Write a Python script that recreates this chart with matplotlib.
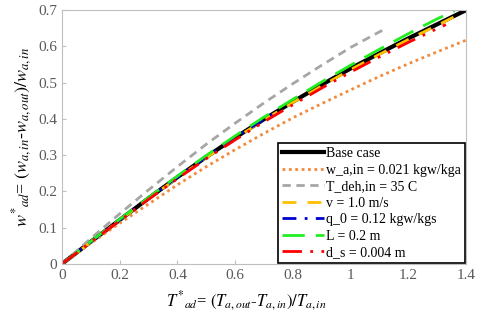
import numpy as np
import matplotlib
matplotlib.use("Agg")
import matplotlib.pyplot as plt

plt.rcParams['font.family'] = ['Liberation Serif', 'DejaVu Serif']
plt.rcParams['mathtext.fontset'] = 'stix'

# base case
x_base = [0, 0.1, 0.2, 0.3, 0.4, 0.5, 0.6, 0.7, 0.8, 0.9, 1.0, 1.1, 1.2, 1.3, 1.4]
y_base = [0, 0.061, 0.121, 0.181, 0.239, 0.295, 0.348, 0.399, 0.447, 0.494, 0.539, 0.581, 0.622, 0.661, 0.70]

# w_a,in = 0.021
x_win = [0, 0.1, 0.2, 0.3, 0.4, 0.5, 0.6, 0.7, 0.8, 0.9, 1.0, 1.1, 1.2, 1.3, 1.4]
y_win = [0, 0.057, 0.112, 0.165, 0.218, 0.268, 0.315, 0.360, 0.403, 0.442, 0.480, 0.517, 0.552, 0.585, 0.617]

# T_deh,in = 35 C
x_tdeh = [0, 0.1, 0.2, 0.3, 0.4, 0.5, 0.6, 0.7, 0.8, 0.9, 1.0, 1.1, 1.12]
y_tdeh = [0, 0.070, 0.138, 0.204, 0.268, 0.330, 0.388, 0.444, 0.497, 0.548, 0.597, 0.640, 0.648]

# v = 1.0 m/s
x_v = [0, 0.1, 0.2, 0.3, 0.4, 0.5, 0.6, 0.7, 0.8, 0.9, 1.0, 1.1, 1.2, 1.3, 1.38]
y_v = [0, 0.060, 0.120, 0.180, 0.237, 0.293, 0.346, 0.397, 0.445, 0.491, 0.536, 0.578, 0.619, 0.658, 0.690]

# q_0 = 0.12
x_q = [0, 0.1, 0.2, 0.3, 0.4, 0.5, 0.6, 0.7, 0.75]
y_q = [0, 0.061, 0.121, 0.181, 0.239, 0.295, 0.348, 0.399, 0.422]

# L = 0.2 m
x_L = [0, 0.1, 0.2, 0.3, 0.4, 0.5, 0.6, 0.7, 0.8, 0.9, 1.0, 1.1, 1.2, 1.3, 1.36]
y_L = [0, 0.062, 0.123, 0.183, 0.242, 0.299, 0.353, 0.405, 0.454, 0.502, 0.548, 0.592, 0.635, 0.676, 0.698]

# d_s = 0.004 m
x_ds = [0, 0.1, 0.2, 0.3, 0.4, 0.5, 0.6, 0.7, 0.8, 0.9, 1.0, 1.1, 1.2, 1.3, 1.33]
y_ds = [0, 0.060, 0.119, 0.178, 0.235, 0.290, 0.342, 0.392, 0.439, 0.485, 0.529, 0.571, 0.611, 0.649, 0.660]

fig = plt.figure(figsize=(4.8, 3.16), dpi=100)
ax = fig.add_axes([0.129, 0.165, 0.842, 0.803])

ax.plot(x_base, y_base, color='black', lw=3, label='Base case')
ax.plot(x_win, y_win, color='#F28A3C', lw=2, ls=(0, (1, 1.3)), label='w_a,in = 0.021 kgw/kga')
ax.plot(x_tdeh, y_tdeh, color='#A6A6A6', lw=2, ls=(0, (3, 2)), label='T_deh,in = 35 C')
ax.plot(x_v, y_v, color='#FFC000', lw=2, ls=(0, (5, 4)), label='v = 1.0 m/s')
ax.plot(x_q, y_q, color='#0000CC', lw=2, ls=(0, (5, 3, 1, 3)), label='q_0 = 0.12 kgw/kgs')
ax.plot(x_L, y_L, color='#22EE22', lw=2, ls=(0, (8, 4)), label='L = 0.2 m')
ax.plot(x_ds, y_ds, color='#FF0000', lw=2, ls=(0, (7, 3, 1, 3, 1, 3)), label='d_s = 0.004 m')

ax.set_xlim(0, 1.4)
ax.set_ylim(0, 0.7)
ax.set_xticks(np.arange(0, 1.41, 0.2))
ax.set_xticklabels(['0', '0.2', '0.4', '0.6', '0.8', '1', '1.2', '1.4'])
ax.set_yticks(np.arange(0, 0.71, 0.1))
ax.set_yticklabels(['0', '0.1', '0.2', '0.3', '0.4', '0.5', '0.6', '0.7'])
ax.tick_params(direction='in', length=3, color='#BFBFBF', labelcolor='#595959', labelsize=11)
for s in ax.spines.values():
    s.set_color('#BFBFBF')

ax.set_xlabel(r'$T^{*}{}_{ad}$= $(T_{a,out}$-$T_{a,in})/T_{a,in}$', fontsize=12)
ax.xaxis.set_label_coords(0.455, -0.1)
ax.set_ylabel(r'$w^{*}{}_{ad}$= $(w_{a,in}$-$w_{a,out})/w_{a,in}$', fontsize=13, labelpad=3)

leg = ax.legend(loc='lower right', fontsize=10, frameon=True, fancybox=False,
                edgecolor='black', framealpha=1, handlelength=3.0, handletextpad=0.2,
                labelspacing=0.25, borderpad=0.3, borderaxespad=0.05)
leg.get_frame().set_linewidth(1.2)

fig.savefig('out.png', dpi=100)
